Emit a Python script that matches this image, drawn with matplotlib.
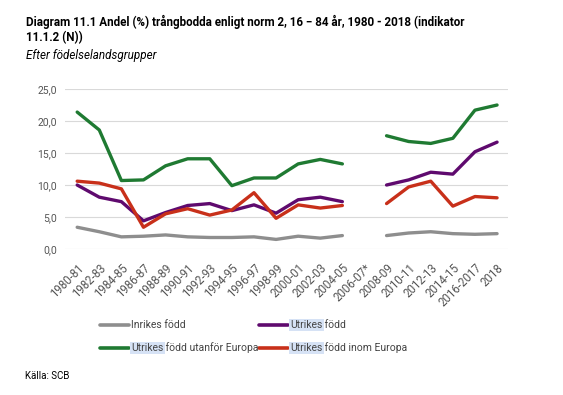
import numpy as np
import matplotlib.pyplot as plt
from matplotlib.lines import Line2D

plt.rcParams['font.family'] = ['Roboto', 'DejaVu Sans']

perioder = ['1980-81', '1982-83', '1984-85', '1986-87', '1988-89', '1990-91',
            '1992-93', '1994-95', '1996-97', '1998-99', '2000-01', '2002-03',
            '2004-05', '2006-07*', '2008-09', '2010-11', '2012-13', '2014-15',
            '2016-2017', '2018']

nan = np.nan
inrikes = [3.4, 2.7, 1.9, 2.0, 2.2, 1.9, 1.8, 1.8, 1.9, 1.5, 2.0, 1.7, 2.1,
           nan, 2.1, 2.5, 2.7, 2.4, 2.3, 2.4]
utrikes = [10.0, 8.1, 7.4, 4.4, 5.7, 6.8, 7.1, 6.0, 6.9, 5.6, 7.7, 8.1, 7.4,
           nan, 10.0, 10.8, 12.0, 11.7, 15.2, 16.7]
utanfor = [21.4, 18.6, 10.7, 10.8, 13.0, 14.1, 14.1, 9.9, 11.1, 11.1, 13.3, 14.0, 13.3,
           nan, 17.7, 16.8, 16.5, 17.3, 21.7, 22.5]
inom = [10.6, 10.3, 9.4, 3.4, 5.5, 6.3, 5.3, 6.1, 8.8, 4.8, 6.9, 6.4, 6.8,
        nan, 7.1, 9.7, 10.6, 6.7, 8.2, 8.0]

serier = [('Inrikes född', inrikes, '#8e8e8e'),
          ('Utrikes född', utrikes, '#5f0a6e'),
          ('Utrikes född utanför Europa', utanfor, '#1f7a32'),
          ('Utrikes född inom Europa', inom, '#c8301a')]

fig = plt.figure(figsize=(5.63, 3.95), dpi=100)
ax = fig.add_axes([0.1155, 0.3696, 0.787, 0.405])

x = np.arange(len(perioder))
for namn, vals, farg in serier:
    ax.plot(x, vals, color=farg, linewidth=2.4, solid_capstyle='round')

ax.set_xlim(-0.55, 19.5)
ax.set_ylim(0, 25)
ax.set_yticks(np.arange(0, 26, 5))
ax.set_yticklabels([f'{v:.1f}'.replace('.', ',') for v in np.arange(0, 26, 5)],
                   color='#555555', fontsize=7.5)
ax.set_xticks(x)
ax.set_xticklabels(perioder, rotation=45, ha='right', rotation_mode='anchor',
                   color='#555555', fontsize=8.3)
ax.tick_params(axis='y', length=0, pad=6)
ax.tick_params(axis='x', length=0, pad=9)
ax.grid(axis='y', color='#d9d9d9', linewidth=0.8)
ax.set_axisbelow(True)
for s in ax.spines.values():
    s.set_visible(False)

fig.text(26 / 563, 1 - 22 / 395, 'Diagram 11.1 Andel (%) trångbodda enligt norm 2, 16 \u2212 84 år, 1980 - 2018 (indikator',
         fontsize=8.4, fontweight='bold', va='center')
fig.text(26 / 563, 1 - 38 / 395, '11.1.2 (N))', fontsize=8.4, fontweight='bold', va='center')
fig.text(26 / 563, 1 - 55 / 395, 'Efter födelselandsgrupper', fontsize=8.4, style='italic', va='center')
fig.text(25 / 563, 1 - 376 / 395, 'Källa: SCB', fontsize=7, va='center')

# legend drawn by hand, with "Utrikes" highlighted as in the original
pos = [(100, 325), (259, 325), (100, 348), (259, 348)]
fig.canvas.draw()
r = fig.canvas.get_renderer()
for (namn, vals, farg), (px, py) in zip(serier, pos):
    yf = 1 - py / 395
    fig.add_artist(Line2D([px / 563, (px + 29) / 563], [yf, yf], color=farg,
                          linewidth=2.6, solid_capstyle='round', transform=fig.transFigure))
    tx = (px + 31) / 563
    if namn.startswith('Utrikes'):
        t = fig.text(tx, yf, 'Utrikes', fontsize=7.5, color='#444444', va='center',
                     bbox=dict(facecolor='#d6e2f5', edgecolor='none', pad=1.0))
        w = t.get_window_extent(r).width / fig.bbox.width
        fig.text(tx + w, yf, namn[len('Utrikes'):], fontsize=7.5, color='#444444', va='center')
    else:
        fig.text(tx, yf, namn, fontsize=7.5, color='#444444', va='center')

plt.savefig('out.png', dpi=100)
